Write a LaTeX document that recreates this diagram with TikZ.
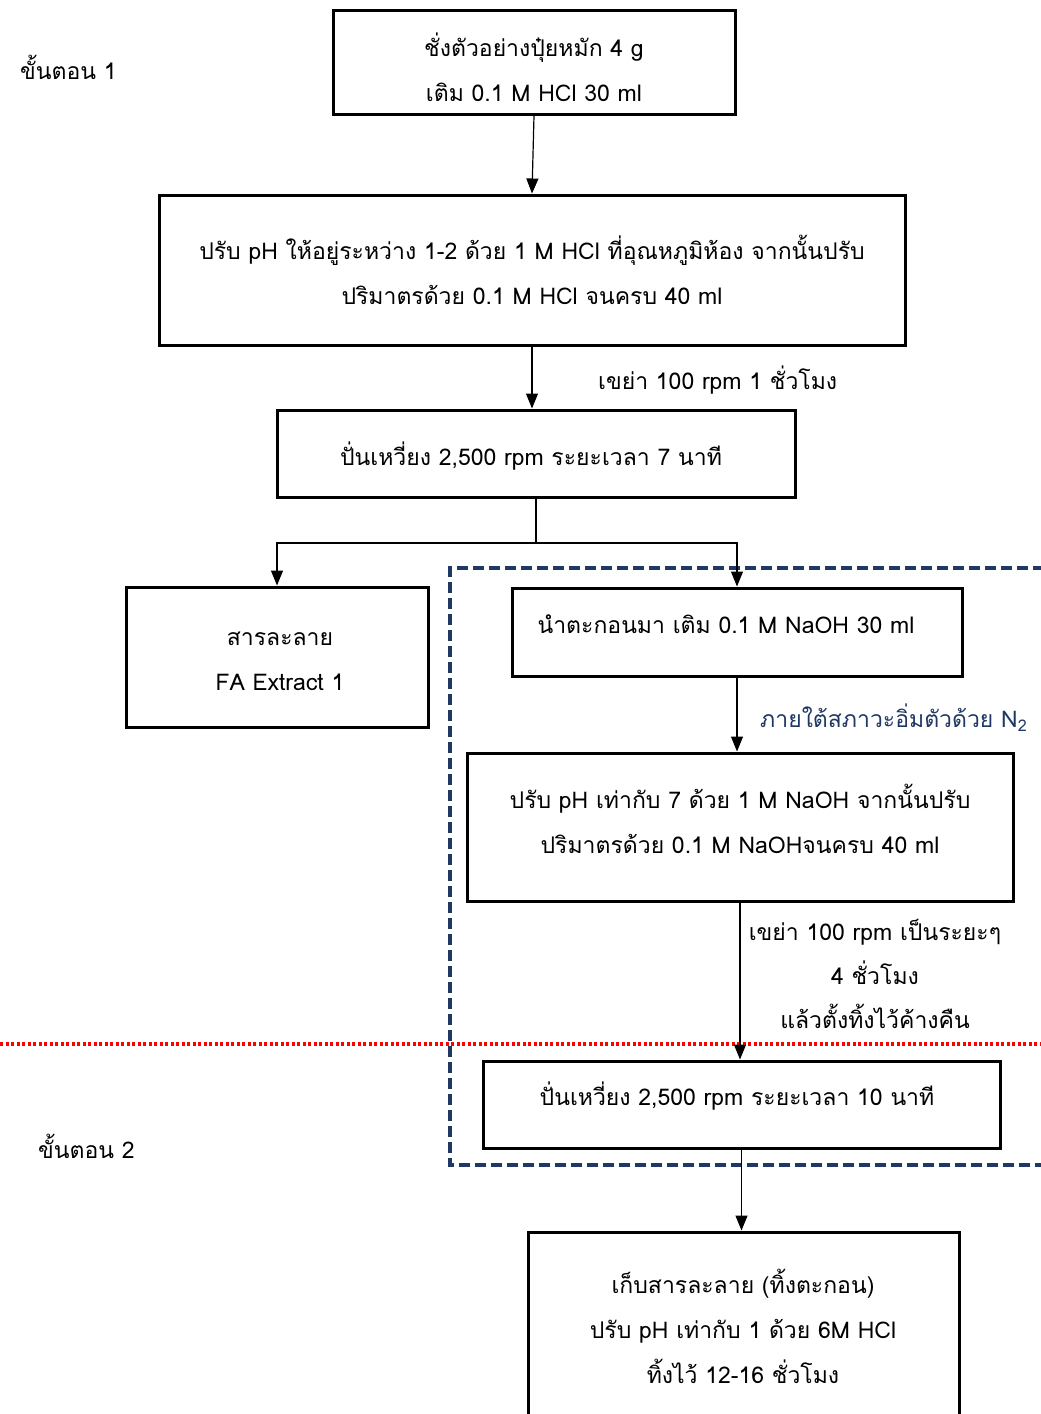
\documentclass[tikz,border=0pt]{standalone}
\usepackage{fontspec}
\setmainfont{Loma}[Script=Thai]
\usetikzlibrary{arrows.meta}
\definecolor{navy}{HTML}{1F3864}
\begin{document}
\begin{tikzpicture}[x=1pt,y=-1pt,
  box/.style={draw=black, line width=3pt, rectangle, inner sep=0pt},
  txt/.style={align=center, font=\fontsize{23}{45}\selectfont, inner sep=0pt},
  arr/.style={-{Triangle[length=15pt,width=12pt]}, line width=1.2pt},
  frame/.style={draw=navy, line width=3.5pt, dash pattern=on 11pt off 5pt},
  sep/.style={draw=red, line width=3.5pt, dash pattern=on 3pt off 2.5pt}]
\useasboundingbox (0,0) rectangle (1041,1414);
% separator
\draw[sep] (0,1044) -- (1041,1044);
% dashed frame
\draw[frame] (1060,568) -- (450,568) -- (450,1165) -- (1060,1165);
% boxes
\node[box, minimum width=402pt, minimum height=104pt] (b1) at (534,62) {};
\node[box, minimum width=746pt, minimum height=150pt] (b2) at (532,270) {};
\node[box, minimum width=518pt, minimum height=87pt] (b3) at (536,453.5) {};
\node[box, minimum width=302pt, minimum height=140pt] (b4) at (277,657) {};
\node[box, minimum width=450pt, minimum height=88pt] (b5) at (737,632) {};
\node[box, minimum width=546pt, minimum height=148pt] (b6) at (740,827) {};
\node[box, minimum width=517pt, minimum height=87pt] (b7) at (741.5,1104.5) {};
\node[box, minimum width=431pt, minimum height=198pt] (b8) at (743.5,1331) {};
% texts
\node[txt] (t1) at (534,67) {ชั่งตัวอย่างปุ๋ยหมัก 4 g\\เติม 0.1 M HCl 30 ml};
\node[txt] (t2) at (532,270) {ปรับ pH ให้อยู่ระหว่าง 1-2 ด้วย 1 M HCl ที่อุณหภูมิห้อง จากนั้นปรับ\\ปริมาตรด้วย 0.1 M HCl จนครบ 40 ml};
\node[txt] (t3) at (531,456) {ปั่นเหวี่ยง 2,500 rpm ระยะเวลา 7 นาที};
\node[txt] (t4) at (280,661) {สารละลาย\\FA Extract 1};
\node[txt] (t5) at (726,624) {นำตะกอนมา เติม 0.1 M NaOH 30 ml};
\node[txt] (t6) at (740,819) {ปรับ pH เท่ากับ 7 ด้วย 1 M NaOH จากนั้นปรับ\\ปริมาตรด้วย 0.1 M NaOHจนครบ 40 ml};
\node[txt] (t7) at (737,1096) {ปั่นเหวี่ยง 2,500 rpm ระยะเวลา 10 นาที};
\node[txt] (t8) at (743,1326) {เก็บสารละลาย (ทิ้งตะกอน)\\ปรับ pH เท่ากับ 1 ด้วย 6M HCl\\ทิ้งไว้ 12-16 ชั่วโมง};
% side labels
\node[txt, anchor=west] (s1) at (20,67) {ขั้นตอน 1};
\node[txt, anchor=west] (s2) at (38,1146) {ขั้นตอน 2};
\node[txt, anchor=west] (l1) at (598,380) {เขย่า 100 rpm 1 ชั่วโมง};
\node[txt, anchor=west, text=navy] (l2) at (760,718) {ภายใต้สภาวะอิ่มตัวด้วย N\textsubscript{2}};
\node[txt, font=\fontsize{23}{44}\selectfont] (l3) at (875,974) {เขย่า 100 rpm เป็นระยะๆ\\4 ชั่วโมง\\แล้วตั้งทิ้งไว้ค้างคืน};
% connectors
\draw[arr] (b1.south) -- (b2.north);
\draw[arr] (b2.south) -- (b2.south |- b3.north);
\coordinate (sp) at (536,543);
\draw[line width=1.2pt] (b3.south) -- (sp);
\draw[arr] (sp) -| (b4.north);
\draw[arr] (sp) -| (b5.north);
\draw[arr] (b5.south) -- (b5.south |- b6.north);
\draw[arr] (b6.south) -- (b6.south |- b7.north);
\draw[arr] (b7.south) -- (b7.south |- b8.north);
\end{tikzpicture}
\end{document}
